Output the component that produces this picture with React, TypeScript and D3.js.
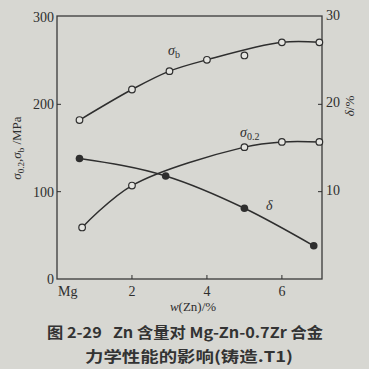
import React from "react";
import * as d3 from "d3";

// w(Zn)/% for each series
const sigmaBZn = [0.6, 2, 3, 4, 6, 7];
const sigmaB = [182, 217, 238, 251, 271, 271];
const sigmaBOutlierZn = [5];
const sigmaBOutlier = [256];

const sigma02Zn = [0.67, 2, 5, 6, 7];
const sigma02 = [59, 107, 151, 157, 157];

const deltaZn = [0.6, 2.9, 5, 6.85];
const delta = [13.8, 11.8, 8.1, 3.8];

const leftTicks = [0, 100, 200, 300];
const rightTicks = [10, 20, 30];
const xTicks = [2, 4, 6];

const serif = "'Liberation Serif', 'DejaVu Serif', serif";
const cjk = "'Noto Sans CJK SC', sans-serif";
const ink = "#2e2e2e";

export default function App() {
  const w = 369;
  const h = 369;
  const left = 57;
  const right = 322;
  const top = 16;
  const bottom = 279;

  const x = d3.scaleLinear().domain([0, 7.07]).range([left, right]);
  const yL = d3.scaleLinear().domain([0, 300]).range([bottom, top + 1]);
  const yR = d3.scaleLinear().domain([0, 30]).range([bottom, top + 1]);

  const lineL = d3
    .line<[number, number]>()
    .x((d) => x(d[0]))
    .y((d) => yL(d[1]))
    .curve(d3.curveCatmullRom.alpha(0.5));
  const lineR = d3
    .line<[number, number]>()
    .x((d) => x(d[0]))
    .y((d) => yR(d[1]))
    .curve(d3.curveMonotoneX);

  const sb = sigmaBZn.map((v, i) => [v, sigmaB[i]] as [number, number]);
  const s02 = sigma02Zn.map((v, i) => [v, sigma02[i]] as [number, number]);
  const dl = deltaZn.map((v, i) => [v, delta[i]] as [number, number]);

  return (
    <svg
      width={w}
      height={h}
      style={{ position: "absolute", left: 0, top: 0 }}
    >
      <rect width={w} height={h} fill="#d7d7d2" />
      <rect
        x={left}
        y={top}
        width={right - left}
        height={bottom - top}
        fill="none"
        stroke="#3a3a3a"
        strokeWidth={1.3}
      />

      {/* left axis */}
      {leftTicks.map((t) => (
        <g key={"l" + t}>
          {t > 0 && t < 300 && (
            <line x1={left} x2={left + 4} y1={yL(t)} y2={yL(t)} stroke={ink} />
          )}
          <text
            x={left - 3}
            y={yL(t) + 5}
            textAnchor="end"
            fontFamily={serif}
            fontSize={14}
            fill={ink}
          >
            {t}
          </text>
        </g>
      ))}

      {/* right axis */}
      {rightTicks.map((t) => (
        <g key={"r" + t}>
          {t < 30 && (
            <line x1={right - 4} x2={right} y1={yR(t)} y2={yR(t)} stroke={ink} />
          )}
          <text
            x={right + 4}
            y={yR(t) + 3}
            fontFamily={serif}
            fontSize={14}
            fill={ink}
          >
            {t}
          </text>
        </g>
      ))}

      {/* x axis */}
      {xTicks.map((t) => (
        <g key={"x" + t}>
          <line x1={x(t)} x2={x(t)} y1={bottom} y2={bottom - 4} stroke={ink} />
          <text
            x={x(t)}
            y={bottom + 17}
            textAnchor="middle"
            fontFamily={serif}
            fontSize={14}
            fill={ink}
          >
            {t}
          </text>
        </g>
      ))}
      <text x={x(0) + 1} y={bottom + 17} fontFamily={serif} fontSize={14} fill={ink}>
        Mg
      </text>

      {/* axis titles */}
      <text
        transform={`translate(21,148) rotate(-90)`}
        textAnchor="middle"
        fontFamily={serif}
        fontSize={13}
        fill={ink}
      >
        <tspan fontStyle="italic">σ</tspan>
        <tspan fontSize={9} dy={3}>0.2</tspan>
        <tspan dy={-3}>,</tspan>
        <tspan fontStyle="italic">σ</tspan>
        <tspan fontSize={9} dy={3}>b</tspan>
        <tspan dy={-3}> /MPa</tspan>
      </text>
      <text
        transform={`translate(354,106) rotate(-90)`}
        textAnchor="middle"
        fontFamily={serif}
        fontSize={13}
        fill={ink}
      >
        <tspan fontStyle="italic">δ</tspan>
        <tspan>/%</tspan>
      </text>
      <text
        x={193}
        y={311}
        textAnchor="middle"
        fontFamily={serif}
        fontSize={13}
        fill={ink}
      >
        <tspan fontStyle="italic">w</tspan>
        <tspan>(Zn)/%</tspan>
      </text>

      {/* curves */}
      <path d={lineL(sb) || ""} fill="none" stroke={ink} strokeWidth={1.5} />
      <path d={lineL(s02) || ""} fill="none" stroke={ink} strokeWidth={1.5} />
      <path d={lineR(dl) || ""} fill="none" stroke={ink} strokeWidth={1.5} />

      {sb.map((d, i) => (
        <circle key={"sb" + i} cx={x(d[0])} cy={yL(d[1])} r={3.3} fill="#e4e4e0" stroke={ink} strokeWidth={1.2} />
      ))}
      {sigmaBOutlierZn.map((v, i) => (
        <circle key={"so" + i} cx={x(v)} cy={yL(sigmaBOutlier[i])} r={3.3} fill="#e4e4e0" stroke={ink} strokeWidth={1.2} />
      ))}
      {s02.map((d, i) => (
        <circle key={"s02" + i} cx={x(d[0])} cy={yL(d[1])} r={3.3} fill="#e4e4e0" stroke={ink} strokeWidth={1.2} />
      ))}
      {dl.map((d, i) => (
        <circle key={"dl" + i} cx={x(d[0])} cy={yR(d[1])} r={3.8} fill={ink} />
      ))}

      {/* series labels */}
      <text x={168} y={55} fontFamily={serif} fontSize={14} fill={ink}>
        <tspan fontStyle="italic">σ</tspan>
        <tspan fontSize={10} dy={3}>b</tspan>
      </text>
      <text x={240} y={137} fontFamily={serif} fontSize={14} fill={ink}>
        <tspan fontStyle="italic">σ</tspan>
        <tspan fontSize={10} dy={3}>0.2</tspan>
      </text>
      <text x={266} y={210} fontFamily={serif} fontSize={14} fontStyle="italic" fill={ink}>
        δ
      </text>

      {/* caption */}
      <text
        x={47}
        y={338}
        fontFamily={cjk}
        fontSize={15}
        fontWeight={700}
        fill="#333"
        textLength={276}
        lengthAdjust="spacingAndGlyphs"
      >
        {"图 2-29\u00a0\u00a0\u00a0Zn 含量对 Mg-Zn-0.7Zr 合金"}
      </text>
      <text
        x={85}
        y={362}
        fontFamily={cjk}
        fontSize={15}
        fontWeight={700}
        fill="#333"
        textLength={208}
        lengthAdjust="spacingAndGlyphs"
      >
        力学性能的影响(铸造.T1)
      </text>
    </svg>
  );
}
